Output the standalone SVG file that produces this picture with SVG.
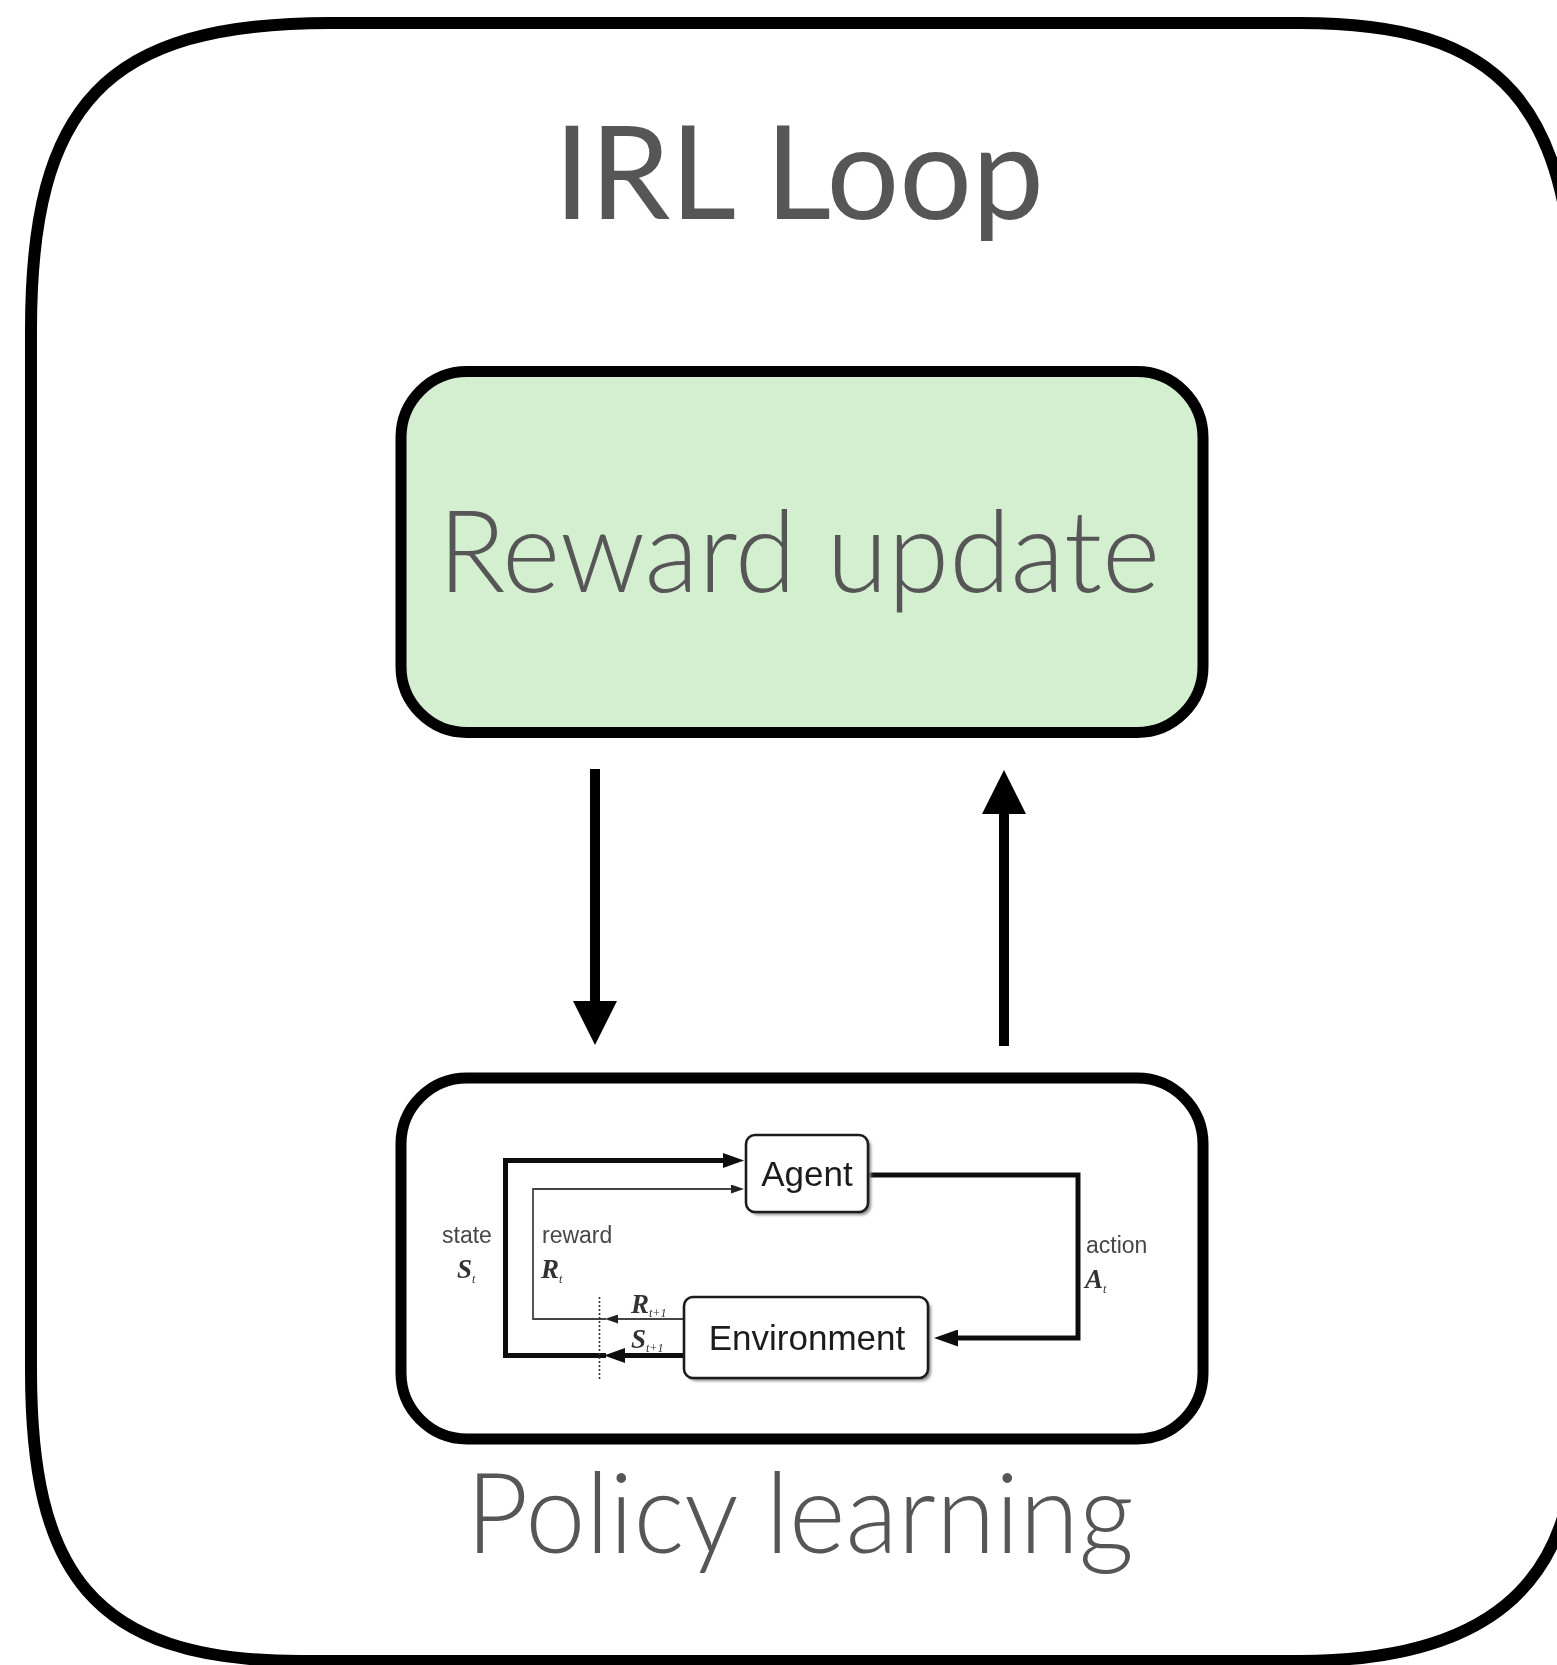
<svg xmlns="http://www.w3.org/2000/svg" width="1557" height="1665" viewBox="0 0 1557 1665">
  <style>
    .frame { fill: none; stroke: #000; stroke-width: 12; }
    .box { stroke: #000; stroke-width: 11; }
    .big { font-family: Lato, "Open Sans", "Liberation Sans", sans-serif; fill: #565656; }
    .shaft { stroke: #000; stroke-width: 10; fill: none; }
    .rlbox { fill: #fff; stroke: #1e1e1e; stroke-width: 2.6; }
    .rlshadow { fill: #8a8a8a; }
    .rlname { font-family: "Liberation Sans", Arial, sans-serif; font-size: 35px; fill: #1c1c1c; text-anchor: middle; }
    .rllabel { font-family: "Liberation Sans", Arial, sans-serif; font-size: 23px; fill: #474747; }
    .math { font-family: "Liberation Serif", "Times New Roman", serif; font-style: italic; font-weight: bold; font-size: 27px; fill: #333; }
    .sub { font-size: 12px; font-weight: normal; }
    .thick { stroke: #111; stroke-width: 5; fill: none; }
    .thin { stroke: #444; stroke-width: 1.8; fill: none; }
  </style>
  <defs>
    <marker id="headBig" markerUnits="userSpaceOnUse" markerWidth="44" markerHeight="44" refX="1" refY="22" orient="auto">
      <path d="M0,0 L44,22 L0,44 Z" fill="#000"/>
    </marker>
    <marker id="headThick" markerUnits="userSpaceOnUse" markerWidth="21" markerHeight="15" refX="1" refY="7.5" orient="auto">
      <path d="M0,0 L21,7.5 L0,15 Z" fill="#111"/>
    </marker>
    <marker id="headThin" markerUnits="userSpaceOnUse" markerWidth="13" markerHeight="9" refX="1" refY="4.5" orient="auto">
      <path d="M0,0 L13,4.5 L0,9 Z" fill="#222"/>
    </marker>
    <marker id="headAction" markerUnits="userSpaceOnUse" markerWidth="24" markerHeight="17" refX="1" refY="8.5" orient="auto">
      <path d="M0,0 L24,8.5 L0,17 Z" fill="#111"/>
    </marker>
    <filter id="soft" x="-5%" y="-5%" width="110%" height="110%">
      <feGaussianBlur stdDeviation="0.6"/>
    </filter>
    <filter id="shadowBlur" x="-10%" y="-10%" width="120%" height="120%">
      <feGaussianBlur stdDeviation="1.5"/>
    </filter>
  </defs>

  <rect x="0" y="0" width="1557" height="1665" fill="#fff"/>

  <!-- outer loop frame -->
  <g id="irl-loop-frame">
    <path class="frame" d="M 31,330 C 31,105 105,23 330,23 L 1300,23 C 1500,23 1575,100 1575,340 L 1575,1430 C 1575,1590 1480,1661 1300,1661 L 300,1661 C 90,1661 31,1570 31,1370 Z"/>
    <text class="big" x="554" y="219" font-size="130" textLength="490" lengthAdjust="spacingAndGlyphs">IRL Loop</text>
  </g>

  <!-- reward update step -->
  <g id="reward-update">
    <rect class="box" x="401" y="371.5" width="802" height="361" rx="66" fill="#d4efd0"/>
    <text class="big" x="438" y="592" font-size="114" font-weight="300" textLength="722" lengthAdjust="spacingAndGlyphs">Reward update</text>
  </g>

  <!-- policy learning step with the agent/environment loop inside -->
  <g id="policy-learning">
    <rect class="box" x="401" y="1078" width="802" height="361" rx="66" fill="#fff"/>
    <text class="big" x="466" y="1553" font-size="113" font-weight="300" textLength="668" lengthAdjust="spacingAndGlyphs">Policy learning</text>

    <g id="rl-figure" filter="url(#soft)">
      <g id="rl-connectors">
        <!-- state S_t -->
        <path class="thick" d="M 683,1355.5 H 624" marker-end="url(#headThick)"/>
        <path class="thick" d="M 606,1355.5 H 505.5 V 1160.5 H 724" marker-end="url(#headThick)"/>
        <!-- reward R_t -->
        <path class="thin" d="M 683,1319 H 617" marker-end="url(#headThin)"/>
        <path class="thin" d="M 606,1319 H 533 V 1189 H 732" marker-end="url(#headThin)"/>
        <!-- action A_t -->
        <path class="thick" d="M 868,1175 H 1078 V 1338 H 957" marker-end="url(#headAction)"/>
        <!-- time-step boundary -->
        <line x1="599.5" y1="1297" x2="599.5" y2="1380" stroke="#333" stroke-width="1.6" stroke-dasharray="2 2"/>
      </g>

      <g id="agent">
        <rect class="rlshadow" x="749" y="1138" width="122" height="77" rx="9" filter="url(#shadowBlur)"/>
        <rect class="rlbox" x="746" y="1135" width="122" height="77" rx="9"/>
        <text class="rlname" x="807" y="1186">Agent</text>
      </g>

      <g id="environment">
        <rect class="rlshadow" x="687" y="1300" width="244" height="81" rx="9" filter="url(#shadowBlur)"/>
        <rect class="rlbox" x="684" y="1297" width="244" height="81" rx="9"/>
        <text class="rlname" x="807" y="1350">Environment</text>
      </g>

      <g id="rl-labels">
        <text class="rllabel" x="442" y="1243">state</text>
        <text class="math" x="457" y="1278">S<tspan class="sub" dy="5">t</tspan></text>
        <text class="rllabel" x="542" y="1243">reward</text>
        <text class="math" x="541" y="1278">R<tspan class="sub" dy="5">t</tspan></text>
        <text class="math" x="631" y="1313">R<tspan class="sub" dy="4">t+1</tspan></text>
        <text class="math" x="631" y="1348">S<tspan class="sub" dy="4">t+1</tspan></text>
        <text class="rllabel" x="1086" y="1253">action</text>
        <text class="math" x="1085" y="1288">A<tspan class="sub" dy="5">t</tspan></text>
      </g>
    </g>
  </g>

  <!-- reward passed down to policy learning, learned policy passed back up -->
  <g id="connectors">
    <line class="shaft" x1="595" y1="769" x2="595" y2="1002" marker-end="url(#headBig)"/>
    <line class="shaft" x1="1004" y1="1046" x2="1004" y2="813" marker-end="url(#headBig)"/>
  </g>
</svg>
